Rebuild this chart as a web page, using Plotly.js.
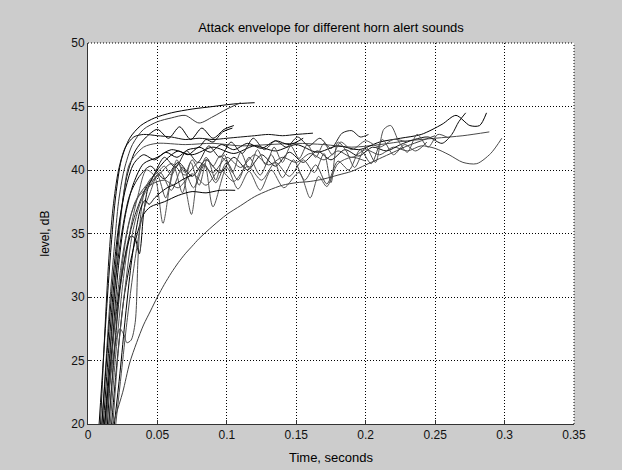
<!DOCTYPE html>
<html>
<head>
<meta charset="utf-8">
<script src="https://cdn.plot.ly/plotly-3.0.1.min.js"></script>
<style>html,body{margin:0;padding:0;background:#cccccc;}#chart{width:622px;height:470px;}</style>
</head>
<body>
<div id="chart"></div>
<script>
// Time (s) and level (dB) for each horn alert sound's attack envelope
const s1x = [0.008,0.011,0.014,0.017,0.02,0.024,0.03,0.038,0.048,0.06,0.075,0.09,0.105,0.12];
const s1y = [20,25,30,34.5,38,40.8,42.5,43.5,44.1,44.5,44.8,45,45.2,45.3];

const s2x = [0.01,0.013,0.016,0.019,0.022,0.026,0.032,0.04,0.05,0.06,0.07,0.08,0.09,0.1,0.11];
const s2y = [20,25,30,34,37.5,40,42,43.2,43.8,44.1,44.3,43.7,44.2,44.8,45.3];

const s3x = [0.011,0.015,0.019,0.023,0.028,0.034,0.042,0.05,0.058,0.066,0.074,0.082,0.09,0.098,0.105];
const s3y = [20,26,31.5,36,39.5,41.5,42.6,43.2,42.5,43.4,42.4,43.3,42.5,43.2,43.5];

const s4x = [0.013,0.017,0.021,0.025,0.03,0.04,0.05,0.07,0.09,0.11,0.13,0.15,0.17,0.19,0.21,0.23,0.25,0.27,0.289];
const s4y = [20,27,33,37.5,40.5,41.8,42.1,42,42.1,41.9,42,42.1,42,41.8,42,42.3,42.5,42.7,43];

const s5x = [0.014,0.018,0.022,0.027,0.033,0.04,0.05,0.06,0.075,0.09,0.105,0.12,0.135,0.15,0.165,0.18,0.195,0.21,0.225,0.24,0.255,0.265,0.275,0.282,0.287];
const s5y = [20,27,32.5,36.5,39,40.5,41,41.6,41.2,41.8,41.3,41.9,41.5,42,41.4,41.9,41.6,42.2,42.5,42.8,43.6,44.3,43.5,43.5,44.5];

const s6x = [0.015,0.019,0.023,0.028,0.034,0.042,0.05,0.06,0.07,0.08,0.09,0.1,0.11,0.12,0.13,0.14,0.15,0.16,0.17,0.18,0.19,0.2,0.21,0.22,0.23,0.24,0.25,0.26,0.27,0.28,0.29,0.298];
const s6y = [20,26,31,35,37.5,38.8,39.5,40.5,39.6,40.6,39.8,41,40.2,41.2,40.4,41,40.6,41.3,40.8,41.5,41,41.6,41.2,41.8,41.5,41.9,41.7,41.2,40.6,40.5,41.3,42.5];

const s7x = [0.012,0.016,0.02,0.025,0.03,0.037,0.045,0.055,0.065,0.075,0.085,0.095,0.105,0.115,0.125,0.135,0.145,0.155,0.165,0.175,0.185,0.195,0.205,0.215,0.225,0.235,0.245,0.255,0.262,0.267,0.272];
const s7y = [20,26,31.5,35.5,38,39.5,40.3,39.3,40.6,39.5,40.8,39.8,41,40,41.2,40.3,41.4,40.6,41.5,40.8,41.6,41.1,41.8,41.5,42,42.4,42.6,42.1,42.8,43.8,44.5];

const s8x = [0.016,0.02,0.025,0.03,0.036,0.042,0.048,0.054,0.059,0.064,0.069,0.0745,0.079,0.084,0.09,0.1,0.108,0.116,0.124,0.132,0.141,0.152,0.16,0.166,0.172,0.18,0.19,0.2];
const s8y = [20,25.5,31,35,38,40,39.5,35.8,38.8,40.8,39.3,36.5,39.5,40.5,37.1,40.2,38.5,39.9,38.4,40,38.6,39.8,37.8,39.5,38.7,40.5,41,40.7];

const s9x = [0.017,0.021,0.026,0.031,0.036,0.04,0.045,0.055,0.065,0.075,0.085,0.095,0.106];
const s9y = [20,25,30,33,35.2,36.5,37.1,37.5,38,38.3,38.2,38.4,38.4];

const s10x = [0.012,0.016,0.02,0.023,0.026,0.028,0.031,0.034,0.036,0.038,0.041,0.045,0.05,0.055,0.06,0.065,0.07,0.075,0.08,0.085,0.09,0.095,0.1];
const s10y = [20,23.5,26.5,27.5,27,26.4,26.6,28,33,36.5,38.5,39.3,39.8,40.3,39.6,40.5,39.8,40.8,40,41,40.3,41.1,40.6];

const s11x = [0.012,0.016,0.02,0.024,0.028,0.031,0.034,0.036,0.037,0.038,0.04,0.043,0.047,0.052,0.058,0.065,0.072,0.08,0.088,0.096,0.105,0.115,0.125,0.135,0.145,0.155];
const s11y = [20,24.5,28.5,31.5,33.8,34.8,34.6,33.7,33.4,34,36.5,38.5,39.5,40.3,41,41.5,41.2,41.8,41.4,42,41.6,42.1,41.7,42.3,42,42.5];

const s12x = [0.009,0.012,0.015,0.018,0.022,0.027,0.033,0.04,0.05,0.06,0.07,0.08,0.09,0.1,0.11,0.12,0.13,0.14,0.15,0.162];
const s12y = [20,27,33,37,40,41.8,42.6,42.8,42.7,42.6,42.4,42.5,42.4,42.5,42.6,42.7,42.8,42.7,42.8,42.9];

const s13x = [0.018,0.022,0.027,0.032,0.038,0.045,0.055,0.065,0.075,0.085,0.095,0.105,0.115,0.125,0.135,0.145,0.155,0.163,0.17,0.175,0.18,0.186,0.192,0.2,0.207,0.213,0.218,0.224,0.23,0.237,0.245,0.252,0.26];
const s13y = [20,26,31,35,37.5,38.8,39.2,38.6,39.7,38.8,40,39.1,40.3,39.2,40.6,39.5,40.8,39.8,41.3,39,42.2,41.5,40.2,41.8,40.6,43.2,43.5,42.2,41.4,42.8,41.8,42.8,42.5];

const s14x = [0.01,0.014,0.018,0.022,0.027,0.033,0.04,0.048,0.056,0.064,0.072,0.08,0.085,0.09,0.097,0.104];
const s14y = [20,26,31.5,35.5,38.5,40.5,41.2,40.8,41.4,41,41.6,41.8,42.4,42.2,43,43.3];

const s15x = [0.013,0.017,0.021,0.026,0.031,0.037,0.044,0.052,0.06,0.068,0.076,0.084,0.092,0.1,0.108,0.116,0.124,0.132,0.14,0.148,0.156,0.164,0.172,0.18,0.188,0.196,0.204,0.212,0.22,0.228,0.236,0.244];
const s15y = [20,25,30,34,36.5,38,38.7,39.8,38.4,40.2,38.6,40.4,39,40.6,39.2,41,39.6,41.2,39.4,40.8,39.2,40.4,38.9,40.7,40,41.6,40.5,42.4,41.2,42,41.5,42.2];

const s16x = [0.015,0.019,0.023,0.028,0.034,0.04,0.047,0.055,0.063,0.071,0.079,0.087,0.095,0.103,0.111,0.119,0.127,0.135,0.143,0.151,0.159,0.167,0.175,0.183,0.19,0.196,0.202];
const s16y = [20,25.5,30.5,34,36.5,38.2,39.5,41,40.2,41.5,40.6,41.9,41,42.2,41.3,42.5,41.6,42.3,41.8,42.6,41.9,42.5,41.7,42.9,43.1,42.6,42.8];

const s17x = [0.02,0.024,0.028,0.032,0.036,0.04,0.045,0.05,0.056,0.062,0.068,0.074,0.08,0.086,0.092,0.098,0.104,0.11,0.116,0.122,0.128,0.134,0.14,0.146,0.152,0.158,0.164,0.17,0.176,0.182,0.19,0.2,0.21,0.22,0.23];
const s17y = [20,24,28,31.5,34.5,36.8,38.3,39.6,37.8,40.2,38.2,40.6,38.8,40.9,39.2,41.2,39.8,41.4,40.1,41.6,40.4,41.8,40.6,41.9,40.9,42,41,42.1,41.2,42.2,41.6,42.3,41.8,42.4,42.2];

const s18x = [0.019,0.023,0.027,0.031,0.035,0.038,0.041,0.044,0.048,0.052,0.057,0.063,0.069,0.075];
const s18y = [20,24,28.5,32.5,35.5,37,37.6,37.3,37.8,38.2,38.6,38.9,39.3,39.6];

const slowx = [0.018,0.025,0.03,0.035,0.04,0.045,0.05,0.055,0.06,0.065,0.07,0.075,0.08,0.09,0.1,0.11,0.12,0.13,0.14,0.15,0.16,0.17,0.18,0.19,0.2,0.21,0.22,0.23,0.24,0.25];
const slowy = [20,22.5,24.8,26.4,27.8,28.9,30,31,31.9,32.7,33.4,34,34.6,35.6,36.5,37.2,37.9,38.4,38.8,39,39.1,39.3,39.6,39.9,40.4,40.9,41.4,41.9,42.3,42.7];

const seriesX = [s1x,s2x,s3x,s4x,s5x,s6x,s7x,s8x,s9x,s10x,s11x,s12x,s13x,s14x,s15x,s16x,s17x,s18x,slowx];
const seriesY = [s1y,s2y,s3y,s4y,s5y,s6y,s7y,s8y,s9y,s10y,s11y,s12y,s13y,s14y,s15y,s16y,s17y,s18y,slowy];
const seriesColor = ['#000000','#3a3a3a','#000000','#4a4a4a','#000000','#4a4a4a','#111111','#555555','#000000','#4a4a4a','#000000','#111111','#505050','#000000','#4a4a4a','#222222','#505050','#000000','#404040'];

const traces = seriesX.map((xs, i) => ({
  x: xs, y: seriesY[i], type: 'scatter', mode: 'lines',
  line: {color: seriesColor[i], width: 1, shape: 'spline', smoothing: 0.8},
  hoverinfo: 'skip', showlegend: false
}));

const fontFam = 'Liberation Sans, Arial, Helvetica, sans-serif';
const dotted = '1px,2px';
const layout = {
  width: 622, height: 470,
  paper_bgcolor: '#cccccc', plot_bgcolor: '#ffffff',
  margin: {l: 88, r: 48, t: 43, b: 46},
  font: {family: fontFam, size: 12, color: '#000'},
  title: {text: 'Attack envelope for different horn alert sounds', x: 0.5, xref: 'paper', y: 1 - 27/470, yref: 'container', yanchor: 'middle', font: {family: fontFam, size: 13, color: '#000'}},
  xaxis: {
    range: [0, 0.35], tickvals: [0,0.05,0.1,0.15,0.2,0.25,0.3,0.35], ticktext: ['0','0.05','0.1','0.15','0.2','0.25','0.3','0.35'],
    tickfont: {family: fontFam, size: 12, color: '#111'},
    showgrid: true, gridcolor: '#000', griddash: dotted, gridwidth: 1,
    showline: true, linecolor: '#333', linewidth: 1, zeroline: false,
    ticks: 'inside', ticklen: 4, tickcolor: '#333',
    title: {text: 'Time, seconds', standoff: 11, font: {family: fontFam, size: 13}},
    automargin: false
  },
  yaxis: {
    range: [20, 50], tickvals: [20,25,30,35,40,45,50],
    tickfont: {family: fontFam, size: 12, color: '#111'},
    showgrid: true, gridcolor: '#000', griddash: dotted, gridwidth: 1,
    showline: true, linecolor: '#333', linewidth: 1, zeroline: false,
    ticks: 'inside', ticklen: 4, tickcolor: '#333',
    title: {text: 'level, dB', standoff: 19, font: {family: fontFam, size: 12}},
    automargin: false
  },
  shapes: [
    {type: 'line', xref: 'paper', yref: 'paper', x0: 0, x1: 1, y0: 1, y1: 1, layer: 'below', line: {color: '#000', width: 1, dash: dotted}},
    {type: 'line', xref: 'paper', yref: 'paper', x0: 1, x1: 1, y0: 0, y1: 1, layer: 'below', line: {color: '#000', width: 1, dash: dotted}}
  ]
};

Plotly.newPlot('chart', traces, layout, {staticPlot: true, displayModeBar: false});
</script>
</body>
</html>
